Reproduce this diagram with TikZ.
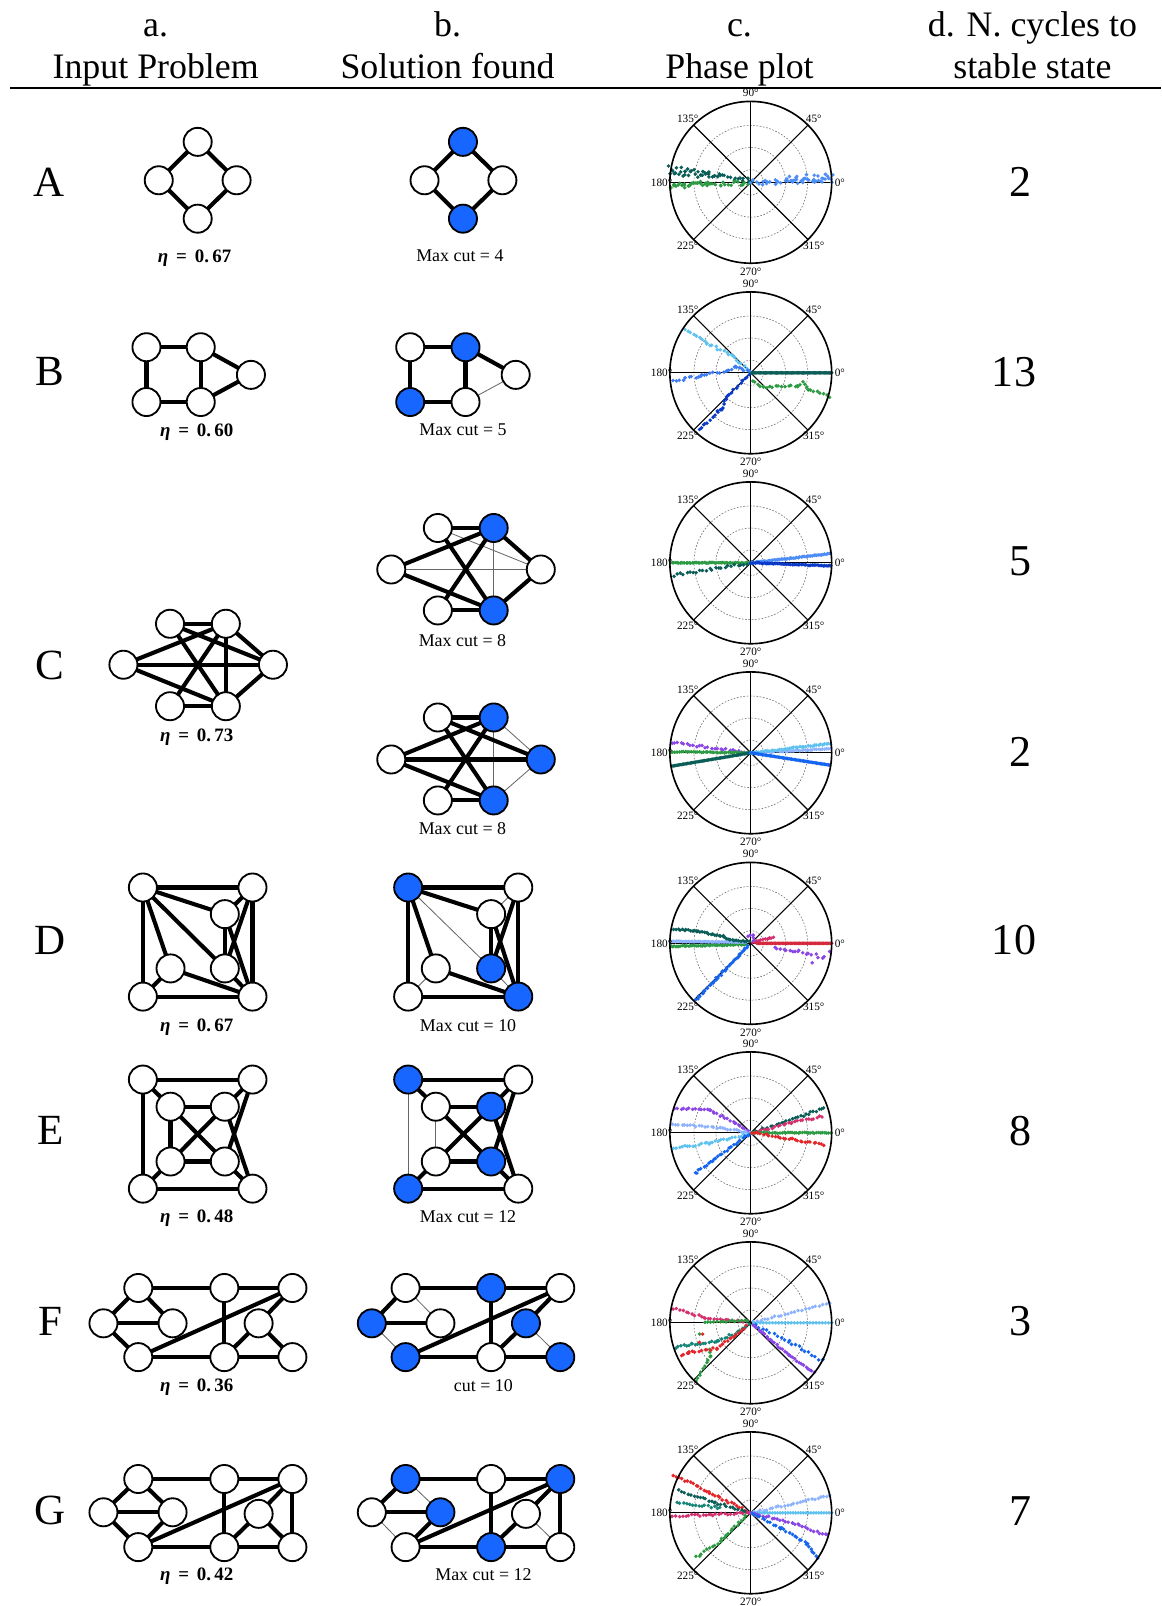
\RequirePackage{fix-cm}
\documentclass[tikz,border=0pt]{standalone}
\usepackage{amsmath}
\usepackage[no-math]{fontspec}
\setmainfont{Liberation Serif}
\pgfdeclarelayer{bg}
\pgfsetlayers{bg,main}
\definecolor{nodeblue}{HTML}{1766FF}
\definecolor{dteal}{HTML}{0B5D57}
\definecolor{dgreen}{HTML}{2D9B43}
\definecolor{lblue}{HTML}{4C8DF6}
\definecolor{sky}{HTML}{5EC2F0}
\definecolor{mblue}{HTML}{3E7BF2}
\definecolor{dblue}{HTML}{0A3AC8}
\definecolor{bblue}{HTML}{1565F0}
\definecolor{vio}{HTML}{8B46E6}
\definecolor{crim}{HTML}{D42A3C}
\definecolor{pinkc}{HTML}{D3306E}
\definecolor{peri}{HTML}{8DB3FF}
\definecolor{teal2}{HTML}{168577}
\definecolor{redc}{HTML}{E42529}
\newcommand\edk[2]{\draw[ek] (#1.center) -- (#2.center);}
\newcommand\edt[2]{\draw[et] (#1.center) -- (#2.center);}
\newcommand\etav[1]{\textbf{\textit{η}\, = \,0.\,#1}}
\newcommand\dseg[7]{%
  \pgfmathtruncatemacro\dnn{max(1,round(veclen((#4)-(#2),(#5)-(#3))/(#7)))}%
  \foreach \dk in {0,...,\dnn}{%
    \pgfmathsetmacro\dpx{(#2)+((#4)-(#2))*\dk/\dnn+(#6)*rand}%
    \pgfmathsetmacro\dpy{(#3)+((#5)-(#3))*\dk/\dnn+(#6)*rand}%
    \fill[#1] (\dpx,\dpy) circle (1.9);}}
\newcommand\polarbase{%
  \foreach \rr in {12.5,34,55.5} \draw[black!55,line width=0.6pt,dash pattern=on 1.6pt off 1.6pt] (0,0) circle (\rr);
  \foreach \aa in {0,45,90,135} \draw[line width=1.1pt] (\aa:79) -- (\aa+180:79);}
\newcommand\polarlabels{%
  \foreach \aa in {0,45,...,315} \node[plbl] at (\aa:87) {\aa°};
  \draw[line width=1.6pt] (0,0) circle (79);}
\begin{document}
\begin{tikzpicture}[x=1pt,y=-1pt,
  gn/.style={circle,draw=black,line width=1.8pt,fill=white,minimum size=27.4pt,inner sep=0pt},
  gb/.style={gn,fill=nodeblue},
  ek/.style={line width=4pt},
  et/.style={line width=0.8pt,draw=black!60},
  hdr/.style={anchor=base,font=\fontsize{35}{40}\selectfont,inner sep=0pt},
  rowl/.style={font=\fontsize{42}{48}\selectfont,inner sep=0pt},
  num/.style={font=\fontsize{43}{48}\selectfont,inner sep=0pt},
  cutl/.style={font=\fontsize{17.5}{20}\selectfont,inner sep=0pt},
  etal/.style={anchor=base,font=\fontsize{18.5}{21}\selectfont,inner sep=0pt},
  plbl/.style={font=\fontsize{11}{12}\selectfont,inner sep=0pt},
]
\pgfmathsetseed{7}
\begin{pgfonlayer}{bg}
\fill[white] (0,0) rectangle (1134,1568);
\end{pgfonlayer}
\useasboundingbox (0,0) rectangle (1134,1568);

% ---------- header ----------
\node[hdr] (ha1) at (152,36) {a.};
\node[hdr] (ha2) at (152,77) {Input Problem};
\node[hdr] (hb1) at (437,36) {b.};
\node[hdr] (hb2) at (437,77) {Solution found};
\node[hdr] (hc1) at (722,36) {c.};
\node[hdr] (hc2) at (722,77) {Phase plot};
\node[hdr] (hd1) at (1008,36) {d. N. cycles to};
\node[hdr] (hd2) at (1008,77) {stable state};
\coordinate (rl) at (10,86);
\coordinate (rr) at (1134,86);
\draw[line width=1.2pt] (rl) -- (rr);

% ---------- row letters & numbers ----------
\node[rowl] (LA) at (48,178) {A};
\node[rowl] (LB) at (49,363) {B};
\node[rowl] (LC) at (49,650) {C};
\node[rowl] (LD) at (49,918) {D};
\node[rowl] (LE) at (49,1104) {E};
\node[rowl] (LF) at (49,1290) {F};
\node[rowl] (LG) at (49,1475) {G};
\node[num] (NA) at (996,178) {2};
\node[num] (NB) at (990,363) {13};
\node[num] (NC1) at (996,548) {5};
\node[num] (NC2) at (996,734) {2};
\node[num] (ND) at (990,918) {10};
\node[num] (NE) at (996,1104) {8};
\node[num] (NF) at (996,1290) {3};
\node[num] (NG) at (996,1475) {7};

% ---------- A ----------
\node[gn] (Ait) at (193,138.5) {};
\node[gn] (Ail) at (155,176) {};
\node[gn] (Air) at (231,176) {};
\node[gn] (Aib) at (193,213.5) {};
\node[etal] (Ael) at (190,256) {\etav{67}};
\node[gb] (Ast) at (452,138.5) {};
\node[gn] (Asl) at (414.5,176) {};
\node[gn] (Asr) at (490.5,176) {};
\node[gb] (Asb) at (452,213.5) {};
\node[cutl] (Acl) at (449,250) {Max cut = 4};
\begin{pgfonlayer}{bg}
\edk{Ait}{Ail}\edk{Ait}{Air}\edk{Aib}{Ail}\edk{Aib}{Air}
\edk{Ast}{Asl}\edk{Ast}{Asr}\edk{Asb}{Asl}\edk{Asb}{Asr}
\end{pgfonlayer}

% ---------- B ----------
\node[gn] (Bi1) at (143,339) {};
\node[gn] (Bi2) at (196,339) {};
\node[gn] (Bi3) at (245,366) {};
\node[gn] (Bi4) at (143,392.5) {};
\node[gn] (Bi5) at (196,392.5) {};
\node[etal] (Bel) at (192,426) {\etav{60}};
\node[gn] (Bs1) at (400.5,339) {};
\node[gb] (Bs2) at (454.5,339) {};
\node[gn] (Bs3) at (503.5,366) {};
\node[gb] (Bs4) at (400.5,392.5) {};
\node[gn] (Bs5) at (454.5,392.5) {};
\node[cutl] (Bcl) at (452,420) {Max cut = 5};
\begin{pgfonlayer}{bg}
\edk{Bi1}{Bi2}\edk{Bi1}{Bi4}\edk{Bi2}{Bi5}\edk{Bi4}{Bi5}\edk{Bi2}{Bi3}\edk{Bi5}{Bi3}
\edk{Bs1}{Bs2}\edk{Bs1}{Bs4}\edk{Bs2}{Bs5}\edk{Bs4}{Bs5}\edk{Bs2}{Bs3}\edt{Bs5}{Bs3}
\end{pgfonlayer}

% ---------- C ----------
\node[gn] (CiL) at (120.5,649) {};
\node[gn] (CiTL) at (166,609) {};
\node[gn] (CiTR) at (220.5,609) {};
\node[gn] (CiR) at (266.5,649) {};
\node[gn] (CiBL) at (166,689.5) {};
\node[gn] (CiBR) at (220.5,689.5) {};
\node[etal] (Cel) at (192,724) {\etav{73}};
\node[gn] (PL) at (382,556) {};
\node[gn] (PTL) at (427.5,515.5) {};
\node[gb] (PTR) at (482,515.5) {};
\node[gn] (PR) at (528,556) {};
\node[gn] (PBL) at (427.5,596) {};
\node[gb] (PBR) at (482,596) {};
\node[cutl] (Pcl) at (451.5,625) {Max cut = 8};
\node[gn] (QL) at (382,741.5) {};
\node[gn] (QTL) at (427.5,700.5) {};
\node[gb] (QTR) at (482,700.5) {};
\node[gb] (QR) at (528,741.5) {};
\node[gn] (QBL) at (427.5,781.5) {};
\node[gb] (QBR) at (482,781.5) {};
\node[cutl] (Qcl) at (451.5,809) {Max cut = 8};
\begin{pgfonlayer}{bg}
\edk{CiTL}{CiTR}\edk{CiBL}{CiBR}\edk{CiTR}{CiR}\edk{CiBR}{CiR}\edk{CiL}{CiTR}\edk{CiL}{CiBR}
\edk{CiL}{CiR}\edk{CiTL}{CiBR}\edk{CiTL}{CiR}\edk{CiTR}{CiBL}\edk{CiTR}{CiBR}
\edt{PL}{PR}\edt{PTL}{PR}\edt{PTR}{PBR}
\edk{PTL}{PTR}\edk{PBL}{PBR}\edk{PTR}{PR}\edk{PBR}{PR}\edk{PL}{PTR}\edk{PL}{PBR}\edk{PTL}{PBR}\edk{PTR}{PBL}
\edt{QTR}{QR}\edt{QBR}{QR}\edt{QTR}{QBR}
\edk{QTL}{QTR}\edk{QBL}{QBR}\edk{QL}{QTR}\edk{QL}{QBR}\edk{QL}{QR}\edk{QTL}{QBR}\edk{QTL}{QR}\edk{QTR}{QBL}
\end{pgfonlayer}

% ---------- D ----------
\node[gn] (DiTL) at (139.5,866.5) {};
\node[gn] (DiTR) at (246.5,866.5) {};
\node[gn] (DiMU) at (219.5,892.5) {};
\node[gn] (DiMR) at (219.5,945.5) {};
\node[gn] (DiML) at (166.5,945.5) {};
\node[gn] (DiBL) at (139.5,973) {};
\node[gn] (DiBR) at (246.5,973) {};
\node[etal] (Del) at (192,1007) {\etav{67}};
\node[gb] (DsTL) at (398.5,866.5) {};
\node[gn] (DsTR) at (506,866.5) {};
\node[gn] (DsMU) at (479.5,892.5) {};
\node[gb] (DsMR) at (479.5,945.5) {};
\node[gn] (DsML) at (425.5,945.5) {};
\node[gn] (DsBL) at (398.5,973) {};
\node[gb] (DsBR) at (506,973) {};
\node[cutl] (Dcl) at (457,1001) {Max cut = 10};
\begin{pgfonlayer}{bg}
\edk{DiTL}{DiTR}\edk{DiTL}{DiBL}\edk{DiBL}{DiBR}\edk{DiTR}{DiBR}\edk{DiTL}{DiMU}\edk{DiTL}{DiML}
\edk{DiTL}{DiMR}\edk{DiMU}{DiMR}\edk{DiMU}{DiBR}\edk{DiTR}{DiMR}\edk{DiTR}{DiMU}\edk{DiML}{DiBR}
\edk{DiML}{DiBL}\edk{DiMR}{DiBR}
\edk{DsTL}{DsTR}\edk{DsTL}{DsBL}\edk{DsBL}{DsBR}\edk{DsTR}{DsBR}\edk{DsTL}{DsMU}\edk{DsTL}{DsML}
\edt{DsTL}{DsMR}\edk{DsMU}{DsMR}\edk{DsMU}{DsBR}\edk{DsTR}{DsMR}\edt{DsTR}{DsMU}\edk{DsML}{DsBR}
\edt{DsML}{DsBL}\edt{DsMR}{DsBR}
\end{pgfonlayer}

% ---------- E ----------
\node[gn] (EiTL) at (139.5,1054) {};
\node[gn] (EiTR) at (246.5,1054) {};
\node[gn] (EiUL) at (166.5,1080.5) {};
\node[gn] (EiUR) at (219.5,1080.5) {};
\node[gn] (EiLL) at (166.5,1134) {};
\node[gn] (EiLR) at (219.5,1134) {};
\node[gn] (EiBL) at (139.5,1160.5) {};
\node[gn] (EiBR) at (246.5,1160.5) {};
\node[etal] (Eel) at (192,1194) {\etav{48}};
\node[gb] (EsTL) at (398.5,1054) {};
\node[gn] (EsTR) at (506,1054) {};
\node[gn] (EsUL) at (425.5,1080.5) {};
\node[gb] (EsUR) at (479.5,1080.5) {};
\node[gn] (EsLL) at (425.5,1134) {};
\node[gb] (EsLR) at (479.5,1134) {};
\node[gb] (EsBL) at (398.5,1160.5) {};
\node[gn] (EsBR) at (506,1160.5) {};
\node[cutl] (Ecl) at (457,1188) {Max cut = 12};
\begin{pgfonlayer}{bg}
\edk{EiTL}{EiTR}\edk{EiTL}{EiBL}\edk{EiBL}{EiBR}\edk{EiTL}{EiUL}\edk{EiUL}{EiUR}\edk{EiUL}{EiLL}
\edk{EiUL}{EiLR}\edk{EiLL}{EiUR}\edk{EiLL}{EiLR}\edk{EiLL}{EiBL}\edk{EiUR}{EiTR}\edk{EiUR}{EiBR}
\edk{EiTR}{EiLR}\edk{EiLR}{EiBR}
\edk{EsTL}{EsTR}\edt{EsTL}{EsBL}\edk{EsBL}{EsBR}\edk{EsTL}{EsUL}\edk{EsUL}{EsUR}\edt{EsUL}{EsLL}
\edk{EsUL}{EsLR}\edk{EsLL}{EsUR}\edk{EsLL}{EsLR}\edk{EsLL}{EsBL}\edk{EsUR}{EsTR}\edk{EsUR}{EsBR}
\edk{EsTR}{EsLR}\edk{EsLR}{EsBR}
\end{pgfonlayer}

% ---------- F ----------
\node[gn] (Fia) at (135,1257.5) {};
\node[gn] (Fib) at (219,1257.5) {};
\node[gn] (Fic) at (285.5,1257.5) {};
\node[gn] (Fid) at (101,1292) {};
\node[gn] (Fie) at (168.5,1292) {};
\node[gn] (Fif) at (252.5,1292) {};
\node[gn] (Fig) at (135,1325) {};
\node[gn] (Fih) at (219,1325) {};
\node[gn] (Fii) at (285.5,1325) {};
\node[etal] (Fel) at (192,1358.5) {\etav{36}};
\node[gn] (Fsa) at (396,1257.5) {};
\node[gb] (Fsb) at (479.5,1257.5) {};
\node[gn] (Fsc) at (547,1257.5) {};
\node[gb] (Fsd) at (363,1292) {};
\node[gn] (Fse) at (430,1292) {};
\node[gb] (Fsf) at (513.5,1292) {};
\node[gb] (Fsg) at (396,1325) {};
\node[gn] (Fsh) at (479.5,1325) {};
\node[gb] (Fsi) at (547,1325) {};
\node[cutl] (Fcl) at (472,1352.5) {cut = 10};
\begin{pgfonlayer}{bg}
\edk{Fia}{Fib}\edk{Fib}{Fic}\edk{Fia}{Fid}\edk{Fia}{Fie}\edk{Fid}{Fie}\edk{Fid}{Fig}\edk{Fig}{Fic}
\edk{Fig}{Fih}\edk{Fih}{Fii}\edk{Fib}{Fih}\edk{Fic}{Fif}\edk{Fif}{Fih}\edk{Fif}{Fii}
\edk{Fsa}{Fsb}\edk{Fsb}{Fsc}\edk{Fsa}{Fsd}\edt{Fsa}{Fse}\edk{Fsd}{Fse}\edt{Fsd}{Fsg}\edk{Fsg}{Fsc}
\edk{Fsg}{Fsh}\edk{Fsh}{Fsi}\edk{Fsb}{Fsh}\edk{Fsc}{Fsf}\edk{Fsf}{Fsh}\edt{Fsf}{Fsi}
\end{pgfonlayer}

% ---------- G ----------
\node[gn] (Gia) at (135,1444) {};
\node[gn] (Gib) at (219,1444) {};
\node[gn] (Gic) at (285.5,1444) {};
\node[gn] (Gid) at (101,1476.5) {};
\node[gn] (Gie) at (168.5,1476.5) {};
\node[gn] (Gif) at (252.5,1478) {};
\node[gn] (Gig) at (135,1510.5) {};
\node[gn] (Gih) at (219,1510.5) {};
\node[gn] (Gii) at (285.5,1510.5) {};
\node[etal] (Gel) at (192,1543.5) {\etav{42}};
\node[gb] (Gsa) at (396,1444) {};
\node[gn] (Gsb) at (479.5,1444) {};
\node[gb] (Gsc) at (547,1444) {};
\node[gn] (Gsd) at (363,1476.5) {};
\node[gb] (Gse) at (430,1476.5) {};
\node[gn] (Gsf) at (513.5,1478) {};
\node[gn] (Gsg) at (396,1510.5) {};
\node[gb] (Gsh) at (479.5,1510.5) {};
\node[gn] (Gsi) at (547,1510.5) {};
\node[cutl] (Gcl) at (472,1537.5) {Max cut = 12};
\begin{pgfonlayer}{bg}
\edk{Gia}{Gib}\edk{Gib}{Gic}\edk{Gia}{Gid}\edk{Gia}{Gie}\edk{Gid}{Gie}\edk{Gid}{Gig}\edk{Gie}{Gig}
\edk{Gig}{Gic}\edk{Gig}{Gih}\edk{Gih}{Gii}\edk{Gib}{Gih}\edk{Gic}{Gif}\edk{Gif}{Gih}\edk{Gif}{Gii}\edk{Gic}{Gii}
\edk{Gsa}{Gsb}\edk{Gsb}{Gsc}\edk{Gsa}{Gsd}\edt{Gsa}{Gse}\edk{Gsd}{Gse}\edt{Gsd}{Gsg}\edk{Gse}{Gsg}
\edk{Gsg}{Gsc}\edk{Gsg}{Gsh}\edk{Gsh}{Gsi}\edk{Gsb}{Gsh}\edk{Gsc}{Gsf}\edk{Gsf}{Gsh}\edt{Gsf}{Gsi}\edk{Gsc}{Gsi}
\end{pgfonlayer}

% ---------- phase plots ----------
% A
\begin{scope}[shift={(733,178)},yscale=-1]
\polarbase
\dseg{dteal}{2}{0.5}{-79}{14}{2.4}{2.2}
\dseg{dteal}{-35}{6}{-79}{9}{2.6}{3.5}
\dseg{dgreen}{-2}{-0.5}{-79}{-3}{2.2}{2.2}
\dseg{dgreen}{-40}{0}{-79}{-6}{2.2}{3.5}
\dseg{lblue}{2}{0}{79}{2}{2.5}{2}
\dseg{lblue}{35}{3}{79}{7}{3}{3.5}
\polarlabels
\end{scope}
% B
\begin{scope}[shift={(733,364)},yscale=-1]
\polarbase
\dseg{dteal}{0}{0}{79}{0}{0}{1.2}
\dseg{dgreen}{2}{-8}{12}{-14}{0.8}{3}
\dseg{dgreen}{12}{-14}{46}{-13}{1}{3}
\dseg{dgreen}{46}{-13}{51}{-9}{0.8}{3}
\dseg{dgreen}{52}{-11}{56}{-16}{0.8}{3}
\dseg{dgreen}{56}{-16}{77}{-23}{1}{3}
\dseg{sky}{-64}{42}{-43}{29}{1.2}{3.2}
\dseg{sky}{-43}{29}{-18}{17}{1.2}{3.2}
\dseg{sky}{-18}{17}{-2}{2}{1}{3}
\dseg{mblue}{-76}{-8}{-48}{-3}{1.2}{3.2}
\dseg{mblue}{-48}{-3}{-24}{2}{1.2}{3.2}
\dseg{mblue}{-24}{2}{-14}{6}{1}{3}
\dseg{mblue}{-14}{6}{-1}{1}{1}{3}
\dseg{dblue}{-51}{-56}{-29}{-36}{1.5}{3}
\dseg{dblue}{-29}{-36}{-23}{-23}{1}{3}
\dseg{dblue}{-23}{-23}{-8}{-8}{1}{3}
\dseg{dblue}{-8}{-8}{-1}{-2}{0.8}{3}
\polarlabels
\end{scope}
% C1
\begin{scope}[shift={(733,549.5)},yscale=-1]
\polarbase
\dseg{dgreen}{0}{0}{-78}{0}{0.4}{1.5}
\dseg{dteal}{0}{0}{-75}{-12}{1.2}{3.2}
\dseg{lblue}{0}{0}{78}{9}{0.4}{1.5}
\dseg{dblue}{0}{0}{78}{-3}{0.4}{1.5}
\polarlabels
\end{scope}
% C2
\begin{scope}[shift={(733,735)},yscale=-1]
\polarbase
\dseg{vio}{0}{0}{-77}{10}{1}{3}
\dseg{dgreen}{0}{0}{-78}{1}{0.5}{2}
\dseg{dteal}{0}{0}{-77}{-13}{0}{1.3}
\dseg{peri}{0}{0}{78}{4}{0.6}{2}
\dseg{sky}{0}{0}{78}{9}{0.6}{2}
\dseg{bblue}{0}{0}{77}{-12}{0}{1.3}
\polarlabels
\end{scope}
% D
\begin{scope}[shift={(733,921)},yscale=-1]
\polarbase
\dseg{dgreen}{-78}{-3}{-5}{-1}{0.5}{1.6}
\dseg{peri}{-78}{2}{-5}{1}{0.3}{1.4}
\dseg{dteal}{-75}{14}{-53}{12}{0.7}{2}
\dseg{dteal}{-53}{12}{-27}{7}{0.7}{2}
\dseg{dteal}{-27}{7}{-20}{3}{0.5}{2}
\dseg{dteal}{-20}{3}{-2}{2}{0.7}{2}
\dseg{bblue}{-53}{-55}{-3}{-3}{1}{1.8}
\dseg{pinkc}{2}{1}{22}{6}{0.5}{2}
\dseg{crim}{6}{0}{79}{0}{0}{1.3}
\dseg{vio}{-3}{7}{2}{8}{0.5}{3}
\dseg{vio}{2}{8}{3}{3}{0.5}{3}
\dseg{vio}{23}{-4}{47}{-8}{1.2}{3.2}
\dseg{vio}{47}{-8}{73}{-14}{1.5}{3.2}
\fill[vio] (60,-19) circle (1.9) (77,-8) circle (1.9);
\polarlabels
\end{scope}
% E
\begin{scope}[shift={(733,1106)},yscale=-1]
\polarbase
\dseg{vio}{-74}{24}{-40}{22}{1}{2.8}
\dseg{vio}{-40}{22}{-15}{10}{1}{2.8}
\dseg{vio}{-15}{10}{-1}{1}{0.8}{2.8}
\dseg{peri}{-76}{8}{-30}{5}{1}{2.8}
\dseg{peri}{-30}{5}{-1}{0}{0.8}{2.8}
\dseg{sky}{-75}{-15}{-40}{-10}{1}{2.8}
\dseg{sky}{-40}{-10}{-1}{-1}{0.8}{2.8}
\dseg{bblue}{-55}{-40}{-35}{-25}{1.2}{2.8}
\dseg{bblue}{-35}{-25}{-1}{-1}{1}{2.8}
\dseg{dteal}{1}{0}{72}{24}{1}{2.8}
\dseg{pinkc}{1}{0}{40}{10}{1}{2.8}
\dseg{pinkc}{40}{10}{70}{16}{1}{2.8}
\dseg{dgreen}{1}{0}{78}{0}{0.5}{2}
\dseg{redc}{1}{0}{40}{-6}{1}{2.8}
\dseg{redc}{40}{-6}{72}{-12}{1}{2.8}
\polarlabels
\end{scope}
% F
\begin{scope}[shift={(733,1291.5)},yscale=-1]
\polarbase
\dseg{pinkc}{-75}{14}{-45}{5}{1}{3}
\dseg{pinkc}{-45}{5}{-7}{1}{0.8}{3}
\dseg{dgreen}{-45}{1}{-3}{2}{0.7}{3}
\dseg{dgreen}{-53}{-56}{-40}{-33}{1}{3.5}
\dseg{dgreen}{-40}{-33}{-40}{-26}{0.8}{3.5}
\fill[dgreen] (-50,-11) circle (1.9);
\dseg{teal2}{-73}{-24}{-57}{-21}{1}{2.6}
\dseg{teal2}{-57}{-21}{-33}{-18}{1}{2.6}
\dseg{teal2}{-33}{-18}{-13}{-9}{1}{2.6}
\dseg{teal2}{-13}{-9}{-2}{-2}{0.8}{2.6}
\dseg{redc}{-68}{-33}{-60}{-29}{1}{3.2}
\dseg{redc}{-60}{-29}{-33}{-25}{1}{3.2}
\dseg{redc}{-33}{-25}{-20}{-15}{1}{3.2}
\dseg{redc}{-20}{-15}{-4}{-3}{1}{3.2}
\fill[redc] (-50,-19) circle (1.9) (-47,-11) circle (1.9);
\dseg{peri}{3}{1}{77}{19}{0.8}{3.5}
\dseg{sky}{3}{0}{79}{0}{0}{3}
\dseg{bblue}{4}{-2}{37}{-18}{1}{4}
\dseg{bblue}{37}{-18}{70}{-37}{1.2}{4}
\dseg{vio}{2}{-2}{37}{-31}{0.8}{2.5}
\dseg{vio}{37}{-31}{62}{-49}{0.8}{2.5}
\polarlabels
\end{scope}
% G
\begin{scope}[shift={(733,1477)},yscale=-1]
\polarbase
\dseg{redc}{-76}{37}{-40}{20}{1}{3}
\dseg{redc}{-40}{20}{-1}{0}{1}{3}
\dseg{dteal}{-70}{22}{-35}{10}{1}{3}
\dseg{dteal}{-35}{10}{-1}{0}{1}{3}
\dseg{teal2}{-72}{10}{-30}{5}{1}{3}
\dseg{pinkc}{-76}{-3}{-40}{-2}{1}{3}
\dseg{pinkc}{-40}{-2}{-1}{0}{1}{3}
\dseg{dgreen}{-53}{-43}{-30}{-28}{1.2}{3}
\dseg{dgreen}{-30}{-28}{-5}{-3}{1}{3}
\dseg{peri}{1}{0}{77}{17}{0.8}{3}
\dseg{sky}{1}{0}{79}{0}{0}{2.5}
\dseg{vio}{1}{0}{40}{-10}{1}{2.8}
\dseg{vio}{40}{-10}{75}{-22}{1}{2.8}
\dseg{bblue}{1}{-1}{30}{-15}{1}{3}
\dseg{bblue}{30}{-15}{55}{-30}{1}{3}
\dseg{bblue}{55}{-30}{65}{-45}{1}{3}
\polarlabels
\end{scope}
\end{tikzpicture}
\end{document}
